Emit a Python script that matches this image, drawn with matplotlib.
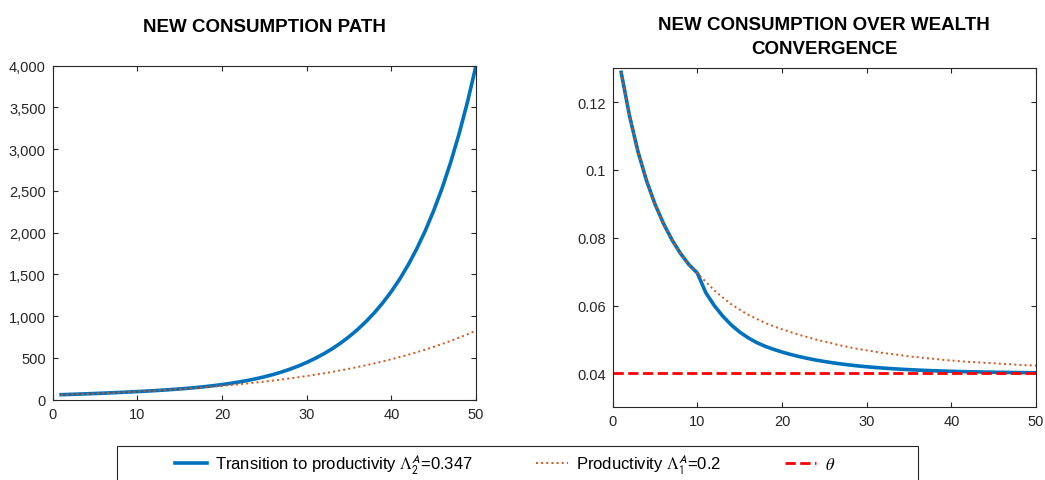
import numpy as np
import matplotlib
matplotlib.use('Agg')
import matplotlib.pyplot as plt
from matplotlib.patches import Rectangle
from matplotlib.ticker import FuncFormatter

plt.rcParams['font.family'] = ['Liberation Sans', 'DejaVu Sans']
plt.rcParams['mathtext.fontset'] = 'stix'

years = np.arange(1, 51)

# consumption level, transition vs. base productivity
cons_transition = [
    60.0, 63.3, 66.8, 70.5, 74.3, 78.4, 82.7, 87.3, 92.1, 97.1,
    102.5, 108.3, 114.5, 121.4, 128.9, 137.1, 146.3, 156.6, 168.1, 181.0,
    195.5, 211.8, 230.1, 250.8, 274.1, 300.5, 330.5, 364.5, 402.8, 446.1,
    494.5, 548.7, 609.4, 677.6, 754.1, 839.3, 935.0, 1041.6, 1161.6, 1295.4,
    1446.0, 1615.8, 1807.3, 2021.5, 2263.4, 2534.2, 2840.2, 3183.2, 3567.6, 4000.0]
cons_base = [
    60.0, 63.3, 66.8, 70.5, 74.3, 78.4, 82.7, 87.3, 92.1, 97.1,
    102.5, 108.1, 114.1, 120.3, 127.0, 134.0, 141.3, 149.1, 157.3, 166.0,
    175.1, 184.7, 194.9, 205.6, 216.9, 228.8, 241.4, 254.7, 268.7, 283.5,
    299.1, 315.5, 332.9, 351.2, 370.5, 390.9, 412.4, 435.0, 459.0, 484.2,
    510.8, 538.9, 568.6, 599.8, 632.8, 667.6, 704.3, 743.1, 783.9, 827.0]

# consumption over wealth
cw_transition = [
    0.1288, 0.1158, 0.1053, 0.0968, 0.0899, 0.0842, 0.0794, 0.0754, 0.0721, 0.0696,
    0.0638, 0.0600, 0.0569, 0.0543, 0.0522, 0.0505, 0.0491, 0.0480, 0.0471, 0.0463,
    0.0456, 0.04498, 0.04443, 0.04394, 0.04351, 0.04312, 0.04278, 0.04247, 0.0422, 0.04196,
    0.04175, 0.04156, 0.04139, 0.04124, 0.0411, 0.04098, 0.04087, 0.04078, 0.04069, 0.04062,
    0.04055, 0.04049, 0.04044, 0.04039, 0.04035, 0.04031, 0.04027, 0.04024, 0.04022, 0.04019]
cw_base = [
    0.1288, 0.1158, 0.1053, 0.0968, 0.0899, 0.0842, 0.0794, 0.0754, 0.0721, 0.0696,
    0.0670, 0.0645, 0.0624, 0.0604, 0.0588, 0.0573, 0.0561, 0.0549, 0.0539, 0.0530,
    0.0522, 0.0514, 0.0507, 0.0500, 0.0494, 0.0488, 0.0482, 0.0477, 0.0472, 0.0468,
    0.0464, 0.0460, 0.0457, 0.0454, 0.0450, 0.0448, 0.0445, 0.0443, 0.0440, 0.0438,
    0.0436, 0.0434, 0.0433, 0.0431, 0.0430, 0.0428, 0.0427, 0.0425, 0.0424, 0.0423]
theta = 0.04

lab_trans = r'Transition to productivity $\Lambda_{\mathsf{2}}^{\mathsf{A}}$=0.347'
lab_base = r'Productivity $\Lambda_{\mathsf{1}}^{\mathsf{A}}$=0.2'
lab_theta = r'$\theta$'

BLUE = '#0072BD'
ORANGE = '#D95319'
GRAY = '#262626'

W, H = 1045, 481
fig = plt.figure(figsize=(W / 100, H / 100), dpi=100)

ax1 = fig.add_axes([52.7 / W, 1 - 400.7 / H, 423.3 / W, 334 / H])
ax2 = fig.add_axes([612.7 / W, 1 - 408.3 / H, 423.3 / W, 339 / H])

ax1.plot(years, cons_transition, color=BLUE, lw=2.6, label=lab_trans)
ax1.plot(years, cons_base, color=ORANGE, lw=1.4, ls=':', label=lab_base)
ax1.set_ylim(0, 4000)
ax1.set_yticks(np.arange(0, 4001, 500))
ax1.yaxis.set_major_formatter(FuncFormatter(lambda v, p: '{:,.0f}'.format(v)))
ax1.set_title('NEW CONSUMPTION PATH', fontsize=13.5, fontweight='bold', pad=25)

ax2.plot(years, cw_transition, color=BLUE, lw=2.6, label=lab_trans)
ax2.plot(years, cw_base, color=ORANGE, lw=1.4, ls=':', label=lab_base)
ax2.axhline(theta, color='#FF0000', lw=2, ls='--', label=lab_theta)
ax2.set_ylim(0.03, 0.13)
ax2.set_yticks([0.04, 0.06, 0.08, 0.10, 0.12])
ax2.yaxis.set_major_formatter(FuncFormatter(lambda v, p: '%g' % round(v, 3)))
ax2.set_title('NEW CONSUMPTION OVER WEALTH\nCONVERGENCE', fontsize=13.5,
              fontweight='bold', pad=11, linespacing=1.55)

for ax in (ax1, ax2):
    ax.set_xlim(0, 50)
    ax.set_xticks(np.arange(0, 51, 10))
    ax.tick_params(direction='in', top=True, right=True, length=3.5, width=0.8,
                   labelsize=10.5, colors=GRAY, pad=5)
    for s in ax.spines.values():
        s.set_color(GRAY)
        s.set_linewidth(0.8)

# shared legend along the bottom
handles = ax2.get_legend_handles_labels()[0]
fig.legend(handles, [lab_trans, lab_base, lab_theta], ncol=3, frameon=False,
           loc='upper left', bbox_to_anchor=(175 / W, 1 - 453 / H),
           borderpad=0, borderaxespad=0, fontsize=12, handlelength=1.9,
           handletextpad=0.5, columnspacing=3.8)
fig.add_artist(Rectangle((117 / W, -0.1), 801 / W, 0.1 + (H - 447) / H,
                         transform=fig.transFigure, fill=False,
                         edgecolor=GRAY, lw=0.8))

fig.savefig('out.png', dpi=100)
